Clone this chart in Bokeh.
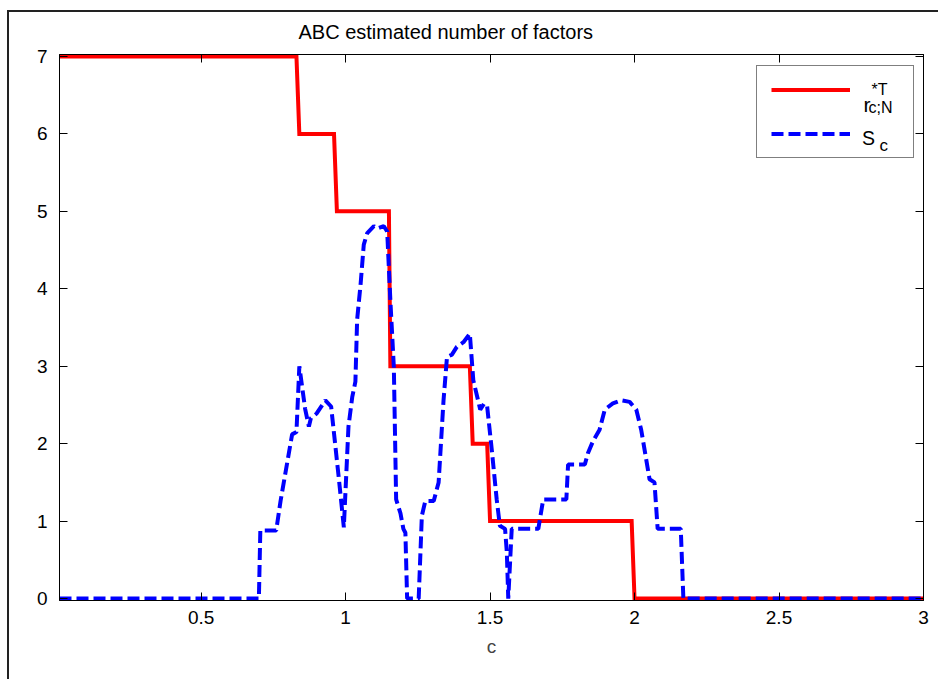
from bokeh.plotting import figure
from bokeh.models import (Range1d, LinearAxis, FixedTicker, Legend, LegendItem, Label,
                          CustomJSTickFormatter)
from bokeh.embed import file_html
from bokeh.resources import INLINE

# ---- data ----
title_text = "ABC estimated number of factors"
x_label = "c"
x_ticks = [0.5, 1, 1.5, 2, 2.5, 3]
x_tick_labels = ["0.5", "1", "1.5", "2", "2.5", "3"]
y_ticks = [0, 1, 2, 3, 4, 5, 6, 7]

# r*T_{c;N} : estimated number of factors (step function)
r_c = [0.01, 0.83, 0.84, 0.96, 0.97, 1.15, 1.155, 1.43, 1.44, 1.49, 1.50, 1.99, 2.00, 3.00]
r_val = [7, 7, 6, 6, 5, 5, 3, 3, 2, 2, 1, 1, 0, 0]

# S_c
s_c = [0.01, 0.70, 0.705, 0.76, 0.775, 0.815, 0.83, 0.84, 0.86, 0.873, 0.88, 0.90,
       0.93, 0.95, 0.977, 0.994, 1.01, 1.023, 1.034, 1.04, 1.052, 1.063, 1.075,
       1.098, 1.11, 1.132, 1.144, 1.155, 1.167, 1.175, 1.19, 1.20, 1.207, 1.213,
       1.253, 1.264, 1.276, 1.305, 1.322, 1.339, 1.351, 1.368, 1.385, 1.408,
       1.43, 1.442, 1.466, 1.48, 1.49, 1.506, 1.523, 1.534, 1.552, 1.558, 1.563,
       1.575, 1.667, 1.684, 1.764, 1.770, 1.828, 1.839, 1.856, 1.879, 1.897,
       1.925, 1.954, 1.983, 2.006, 2.023, 2.052, 2.069, 2.080, 2.160, 2.169, 3.00]
s_val = [0, 0, 0.88, 0.88, 1.26, 2.12, 2.15, 3.0, 2.45, 2.22, 2.33, 2.39,
         2.56, 2.48, 1.54, 0.92, 2.22, 2.6, 2.8, 3.6, 4.06, 4.57, 4.72,
         4.81, 4.78, 4.81, 4.74, 3.85, 2.99, 1.28, 1.1, 0.9, 0.85, 0,
         0, 1.07, 1.26, 1.26, 1.5, 2.56, 3.12, 3.15, 3.25, 3.31,
         3.42, 2.82, 2.44, 2.52, 2.48, 1.92, 1.28, 0.94, 0.9, 0.6, 0,
         0.9, 0.9, 1.28, 1.28, 1.73, 1.73, 1.88, 2.03, 2.18, 2.44,
         2.52, 2.56, 2.54, 2.44, 2.18, 1.54, 1.50, 0.9, 0.9, 0, 0]

FONT = "Liberation Sans"

p = figure(width=938, height=679, output_backend="svg", toolbar_location=None,
           x_range=Range1d(0.01, 3), y_range=Range1d(-0.025, 7.025),
           min_border_left=59, min_border_right=15, min_border_top=54, min_border_bottom=79)
# figure-window border (left and top edges), drawn behind a transparent canvas border
p.styles = {"background": "linear-gradient(#222, #222) 7px 10px / 2px 669px no-repeat, "
                          "linear-gradient(#222, #222) 7px 10px / 931px 2px no-repeat, #ffffff"}
p.xgrid.visible = False
p.ygrid.visible = False
p.outline_line_color = "black"
p.outline_line_width = 1
p.background_fill_color = "white"
p.border_fill_color = None

p.title.text = title_text
p.title.align = "left"
p.title.offset = 239
p.title.standoff = 24
p.title.text_font = FONT
p.title.text_font_size = "20px"
p.title.text_font_style = "normal"
p.title.text_color = "black"

for ax in p.xaxis:
    ax.ticker = FixedTicker(ticks=x_ticks)
    ax.major_label_overrides = {t: s for t, s in zip(x_ticks, x_tick_labels)}
    ax.axis_label = x_label
    ax.axis_label_text_font = FONT
    ax.axis_label_text_font_size = "19px"
    ax.axis_label_text_font_style = "normal"
    ax.axis_label_standoff = 9
    ax.major_label_standoff = 10
for ax in p.yaxis:
    ax.ticker = FixedTicker(ticks=y_ticks)
    ax.major_label_standoff = 12
for ax in list(p.xaxis) + list(p.yaxis):
    ax.major_label_text_font = FONT
    ax.major_label_text_font_size = "19px"
    ax.major_label_text_color = "black"
    ax.major_tick_in = 8
    ax.major_tick_out = 0
    ax.minor_tick_line_color = None
    ax.axis_line_color = "black"
    ax.major_tick_line_color = "black"

blank = CustomJSTickFormatter(code="return ''")
top_ax = LinearAxis(ticker=FixedTicker(ticks=x_ticks), formatter=blank,
                    major_tick_in=8, major_tick_out=0, minor_tick_line_color=None,
                    major_label_standoff=0, major_label_text_font_size="1px",
                    axis_line_color="black")
right_ax = LinearAxis(ticker=FixedTicker(ticks=y_ticks), formatter=blank,
                      major_tick_in=8, major_tick_out=0, minor_tick_line_color=None,
                      major_label_standoff=0, major_label_text_font_size="1px",
                      axis_line_color="black")
p.add_layout(top_ax, "above")
p.add_layout(right_ax, "right")

r1 = p.line(r_c, r_val, line_color="#ff0000", line_width=4, line_join="miter")
r2 = p.line(s_c, s_val, line_color="#0000ff", line_width=4, line_dash="12 5")

legend = Legend(items=[LegendItem(label=" ", renderers=[r1]),
                       LegendItem(label=" ", renderers=[r2])],
                location=(697, 442), orientation="vertical",
                glyph_width=79, glyph_height=19, label_height=19, label_width=37,
                label_standoff=12, spacing=25, padding=14, margin=0,
                border_line_color="black", border_line_width=1,
                background_fill_color=None)
p.add_layout(legend, "center")

# legend texts in screen units (from the plot frame's bottom-left corner)
def lab(text, px, py, size):
    p.add_layout(Label(x=px - 59, y=600 - py, x_units="screen", y_units="screen",
                       text=text, text_font=FONT, text_font_size=size, level="overlay",
                       text_color="black", text_baseline="alphabetic", text_align="left"))

# legend labels: r^{*T}_{c;N} and S_c
lab("r", 863, 103.5, "21px")
lab("*T", 871, 88.5, "16px")
lab("c;N", 868, 106.5, "16px")
lab("S", 861.5, 137.5, "19.5px")
lab("c", 879, 145, "17px")

open("out.html", "w").write(file_html(p, INLINE))
